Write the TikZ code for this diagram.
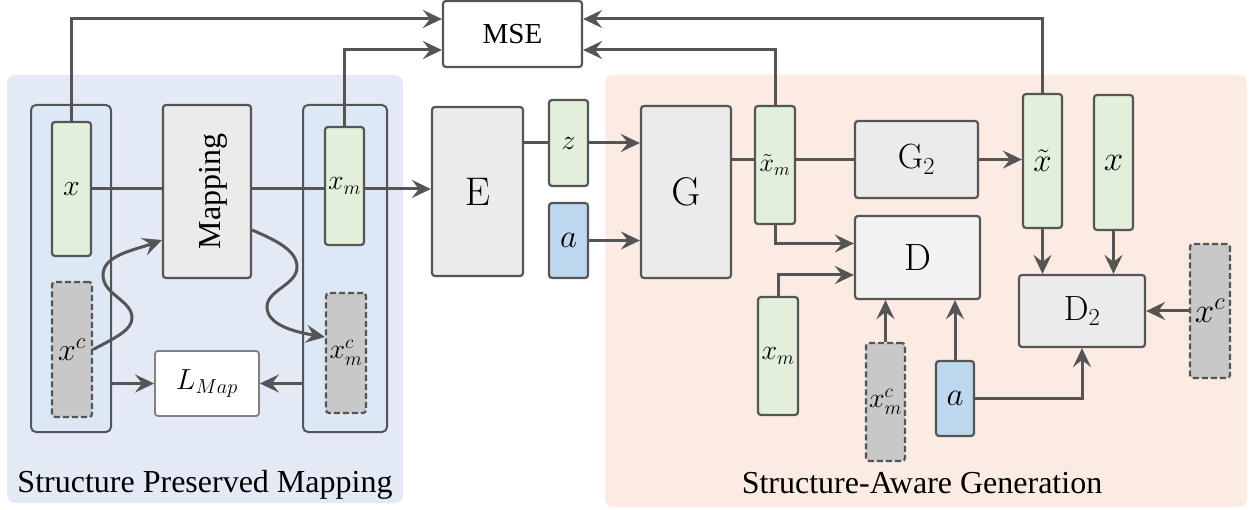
\RequirePackage{fix-cm}
\documentclass[tikz,border=0pt]{standalone}
\usepackage[no-math]{fontspec}
\setmainfont{Liberation Serif}
\usetikzlibrary{arrows.meta,calc}

\definecolor{wirec}{HTML}{555555}
\definecolor{leftbg}{HTML}{E3E9F5}
\definecolor{rightbg}{HTML}{FBEBE2}
\definecolor{colfill}{HTML}{DCE8F5}
\definecolor{greenfill}{HTML}{E2EFDA}
\definecolor{bluefill}{HTML}{BDD7EE}
\definecolor{grayfill}{HTML}{C8C8C8}
\definecolor{blockfill}{HTML}{EBEBEB}
\definecolor{discfill}{HTML}{F2F2F2}

\newcommand{\fsz}[1]{\fontsize{#1}{#1}\selectfont}

\pgfdeclarelayer{panel}
\pgfdeclarelayer{wires}
\pgfsetlayers{panel,wires,main}

\tikzset{
  dims/.style 2 args={minimum width=#1,minimum height=#2},
  blk/.style={draw=wirec, line width=2.2pt, rounded corners=3pt, inner sep=0pt},
  grn/.style={blk, fill=greenfill},
  blu/.style={blk, fill=bluefill},
  cond/.style={blk, fill=grayfill, dash pattern=on 6pt off 3pt},
  block/.style={blk, fill=blockfill},
  col/.style={draw=wirec, line width=2pt, rounded corners=5pt, fill=colfill},
  wire/.style={draw=wirec, line width=3pt},
  arr/.style={-{Stealth[length=19pt,width=18pt,inset=7pt]}},
  title/.style={font=\fsz{32}, inner sep=0pt},
}

\begin{document}
\begin{tikzpicture}[x=1pt,y=-1pt]
\useasboundingbox (0,0) rectangle (1252,510);

% shaded panels and the two feature columns
\begin{pgfonlayer}{panel}
  \fill[leftbg, rounded corners=8pt] (7,75) rectangle (403,503);
  \fill[rightbg, rounded corners=8pt] (605,75) rectangle (1247,507);
  \node[col, dims={80pt}{327pt}] (lcol) at (71,268.5) {};
  \node[col, dims={84pt}{327pt}] (rcol) at (345,268.5) {};
\end{pgfonlayer}

\node[title, anchor=base] (t1) at (205,492) {Structure Preserved Mapping};
\node[title, anchor=base] (t2) at (922,493) {Structure-Aware Generation};

% structure preserved mapping
\node[grn, dims={39pt}{134pt}] (lx) at (71.5,189) {\fsz{30}$x$};
\node[cond, dims={40pt}{135pt}] (lxc) at (72,349.5) {\fsz{32}$x^c$};
\node[block, dims={88pt}{173pt}] (map) at (207,191.5) {\hspace*{12pt}\rotatebox{90}{\fsz{32}Mapping}};
\node[grn, dims={39pt}{118pt}] (rxm) at (344.5,186) {\fsz{28}$x_m$};
\node[cond, dims={40pt}{120pt}] (rxmc) at (346,353) {\fsz{28}$x_m^c$};
\node[blk, draw=wirec!75, line width=1.8pt, fill=white, dims={104pt}{65pt}] (lmap) at (207,383.5) {\fsz{29}$L_{Map}$};

% loss
\node[blk, fill=white, dims={139pt}{66pt}] (mse) at (512.5,34) {\fsz{29}MSE};

% encoder
\node[block, dims={91pt}{169pt}] (E) at (477.5,191.5) {\fsz{40}$\mathrm{E}$};
\node[grn, dims={39pt}{86pt}] (z) at (568.5,143) {\fsz{28}$z$};
\node[blu, dims={39pt}{75pt}] (am) at (568.5,240.5) {\fsz{33}$a$};

% structure-aware generation
\node[block, dims={90pt}{172pt}] (G) at (686,192) {\fsz{40}$\mathrm{G}$};
\node[grn, dims={40pt}{118pt}] (xtm) at (775,165) {\fsz{26}$\tilde{x}_m$};
\node[block, dims={123pt}{77pt}] (G2) at (916.5,159.5) {\fsz{35}$\mathrm{G}_2$};
\node[blk, fill=discfill, dims={125pt}{83pt}] (D) at (917.5,257.5) {\fsz{38}$\mathrm{D}$};
\node[grn, dims={39pt}{134pt}] (xt) at (1042.5,161) {\fsz{33}$\tilde{x}$};
\node[grn, dims={39pt}{135pt}] (xr) at (1113.5,162.5) {\fsz{35}$x$};
\node[block, dims={126pt}{72pt}] (D2) at (1082,311) {\fsz{35}$\mathrm{D}_2$};
\node[cond, dims={40pt}{134pt}] (xcr) at (1210,311) {\fsz{35}$x^c$};
\node[grn, dims={40pt}{118pt}] (xml) at (778,356) {\fsz{28}$x_m$};
\node[cond, dims={39pt}{118pt}] (xmcl) at (885.5,402) {\fsz{28}$x_m^c$};
\node[blu, dims={38pt}{75pt}] (ar) at (955,398.5) {\fsz{33}$a$};

\begin{pgfonlayer}{wires}
  % mapping branch
  \draw[wire] (lx.east) -- (lx.east -| map.west);
  \draw[wire,arr] (map.east |- lx.east) -- (E.west |- lx.east);
  \draw[wire,arr] (lxc.east) .. controls (115,338) and (132,330) .. (132,318)
    .. controls (132,300) and (103,295) .. (103,275)
    .. controls (103,255) and (135,250) .. ([yshift=-48.5pt]map.west);
  \draw[wire,arr] ([yshift=-38.5pt]map.east) .. controls (275,240) and (297,250) .. (297,267)
    .. controls (297,285) and (267,290) .. (267,307)
    .. controls (267,325) and (295,332) .. ([yshift=16pt]rxmc.west);
  \draw[wire,arr] (lcol.east |- lmap) -- (lmap.west);
  \draw[wire,arr] (rcol.west |- lmap) -- (lmap.east);
  % reconstruction losses
  \draw[wire,arr] (lx.north) |- ([yshift=15pt]mse.west);
  \draw[wire,arr] (rxm.north) |- ([yshift=-16pt]mse.west);
  \draw[wire,arr] (xt.north) |- ([yshift=15pt]mse.east);
  \draw[wire,arr] (xtm.north) |- ([yshift=-16pt]mse.east);
  % encoder to generator
  \draw[wire] (E.east |- z) -- (z.west);
  \draw[wire,arr] (z.east) -- (z.east -| G.west);
  \draw[wire,arr] (am.east) -- (am.east -| G.west);
  \draw[wire] (G.east |- G2) -- (G2.west);
  \draw[wire,arr] (G2.east) -- (G2.east -| xt.west);
  % discriminators
  \draw[wire,arr] (xtm.south) |- ([yshift=14pt]D.west);
  \draw[wire,arr] (xml.north) |- ([yshift=-17.5pt]D.west);
  \draw[wire,arr] (xmcl.north) -- (xmcl.north |- D.south);
  \draw[wire,arr] (ar.north) -- (ar.north |- D.south);
  \draw[wire,arr] (ar.east) -| (D2.south);
  \draw[wire,arr] (xt.south) -- (xt.south |- D2.north);
  \draw[wire,arr] (xr.south) -- (xr.south |- D2.north);
  \draw[wire,arr] (xcr.west) -- (xcr.west -| D2.east);
\end{pgfonlayer}
\end{tikzpicture}
\end{document}
